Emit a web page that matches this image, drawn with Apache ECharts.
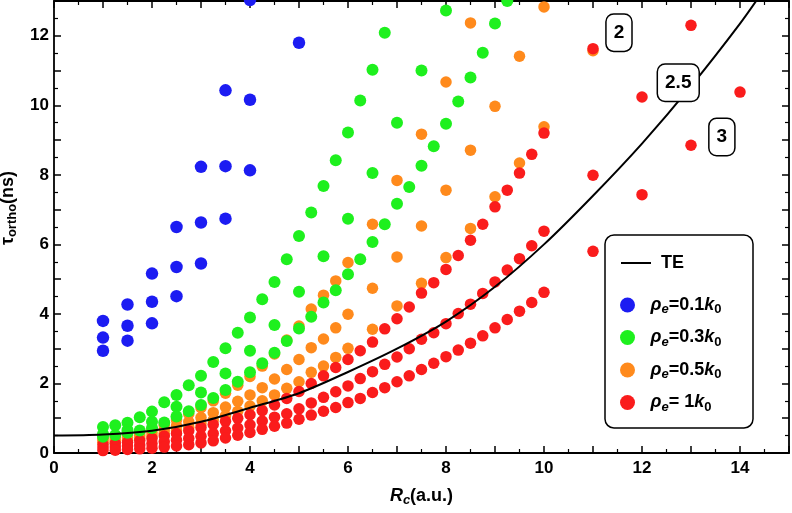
<!DOCTYPE html>
<html>
<head>
<meta charset="utf-8">
<script src="https://cdn.jsdelivr.net/npm/echarts@6/dist/echarts.min.js"></script>
<style>
html, body { margin: 0; padding: 0; background: #fff; }
#chart { width: 792px; height: 513px; }
</style>
</head>
<body>
<div id="chart"></div>
<script>
// x grids (dots sit every 0.25, some lines every 0.5)
const xQuarter = [1, 1.25, 1.5, 1.75, 2, 2.25, 2.5, 2.75, 3, 3.25, 3.5, 3.75, 4, 4.25, 4.5, 4.75, 5, 5.25, 5.5, 5.75, 6,
    6.25, 6.5, 6.75, 7, 7.25, 7.5, 7.75, 8, 8.25, 8.5, 8.75, 9, 9.25, 9.5, 9.75, 10];
const xQuarterTo6 = [1, 1.25, 1.5, 1.75, 2, 2.25, 2.5, 2.75, 3, 3.25, 3.5, 3.75, 4, 4.25, 4.5, 4.75, 5, 5.25, 5.5, 5.75, 6];

// rho_e = 0.1 k0 (blue)
const blueAX = [1, 1.5, 2, 2.5, 3, 3.5, 4];
const blueAY = [3.8, 4.27, 5.16, 6.5, 8.23, 10.43, 13.03];
const blueBX = [1, 1.5, 2, 2.5, 3, 3.5, 4];
const blueBY = [3.32, 3.66, 4.35, 5.35, 6.63, 8.25, 10.16];
const blueCX = [1, 1.5, 2, 2.5, 3, 3.5, 4, 5];
const blueCY = [2.94, 3.23, 3.73, 4.51, 5.45, 6.74, 8.13, 11.8];

// rho_e = 0.3 k0 (green)
const greenAX = [1, 1.25, 1.5, 1.75, 2, 2.25, 2.5, 2.75, 3, 3.25, 3.5, 3.75, 4, 4.25, 4.5, 4.75, 5, 5.25, 5.5, 5.75, 6, 6.25, 6.5, 6.75];
const greenAY = [0.75, 0.8, 0.87, 1.03, 1.19, 1.46, 1.67, 1.95, 2.22, 2.62, 3.01, 3.46, 3.9, 4.42, 4.92, 5.57, 6.24, 6.92,
    7.68, 8.42, 9.22, 10.14, 11.02, 12.09];
const greenBX = [1, 1.5, 2, 2.5, 3, 3.5, 4, 4.5, 5, 5.5, 6, 6.5, 7, 7.5, 8];
const greenBY = [0.55, 0.66, 0.9, 1.33, 1.74, 2.29, 2.94, 3.68, 4.64, 5.66, 6.74, 8.05, 9.5, 11.0, 12.73];
const greenCX = [1, 1.25, 1.5, 1.75, 2, 2.25, 2.5, 2.75, 3, 3.25, 3.5, 3.75, 4, 4.25, 4.5, 4.75, 5, 5.25, 5.5, 5.75, 6,
    6.25, 6.5, 6.75, 7, 7.25, 7.5, 7.75, 8, 8.25, 8.5, 8.75, 9, 9.25];
const greenCY = [0.47, 0.52, 0.58, 0.65, 0.72, 0.88, 1.05, 1.2, 1.38, 1.58, 1.81, 2.05, 2.32, 2.58, 2.88, 3.22, 3.58, 3.92,
    4.33, 4.68, 5.14, 5.57, 6.07, 6.58, 7.17, 7.65, 8.26, 8.82, 9.47, 10.11, 10.8, 11.51, 12.35, 13.0];

// rho_e = 0.5 k0 (orange)
const orangeAX = xQuarterTo6.concat([6.5, 7, 7.5, 8, 8.5]);
const orangeAY = [0.42, 0.45, 0.5, 0.58, 0.68, 0.8, 0.95, 1.12, 1.3, 1.5, 1.72, 1.95, 2.2, 2.5, 2.85, 3.25, 3.65, 4.14,
    4.54, 4.95, 5.48, 6.58, 7.84, 9.17, 10.67, 12.37];
const orangeBX = xQuarterTo6.concat([6.5, 7, 7.5, 8, 8.5, 9, 9.5, 10]);
const orangeBY = [0.36, 0.39, 0.44, 0.5, 0.58, 0.67, 0.78, 0.9, 1.02, 1.16, 1.32, 1.49, 1.67, 1.88, 2.13, 2.4, 2.69, 3.03,
    3.28, 3.6, 3.99, 4.74, 5.64, 6.53, 7.56, 8.71, 9.97, 11.41, 12.83];
const orangeCX = xQuarterTo6.concat([6.5, 7, 7.5, 8, 8.5, 9, 9.5, 10, 11]);
const orangeCY = [0.3, 0.33, 0.37, 0.42, 0.49, 0.56, 0.64, 0.74, 0.84, 0.95, 1.07, 1.2, 1.35, 1.5, 1.67, 1.86, 2.05, 2.32,
    2.5, 2.75, 3.01, 3.56, 4.23, 4.88, 5.62, 6.46, 7.37, 8.34, 9.38, 11.57];

// rho_e = 1 k0 (red)
const redAX = xQuarter.concat([11]);
const redAY = [0.24, 0.27, 0.31, 0.36, 0.42, 0.49, 0.56, 0.64, 0.73, 0.82, 0.91, 1.0, 1.1, 1.22, 1.38, 1.57, 1.77, 2.0,
    2.22, 2.46, 2.69, 2.94, 3.19, 3.57, 3.86, 4.2, 4.6, 4.9, 5.28, 5.68, 6.12, 6.58, 7.08, 7.56, 8.05, 8.59, 9.2, 11.63];
const redBX = xQuarter.concat([11, 12, 13]);
const redBY = [0.15, 0.17, 0.2, 0.23, 0.27, 0.32, 0.37, 0.42, 0.48, 0.56, 0.64, 0.72, 0.81, 0.92, 1.03, 1.13, 1.27, 1.44,
    1.6, 1.76, 1.93, 2.14, 2.34, 2.55, 2.76, 3.0, 3.27, 3.46, 3.72, 4.01, 4.28, 4.59, 4.92, 5.26, 5.59, 5.96, 6.38,
    7.99, 10.24, 12.3];
const redCX = xQuarter.concat([11, 12, 13, 14]);
const redCY = [0.07, 0.08, 0.1, 0.12, 0.14, 0.17, 0.2, 0.24, 0.29, 0.35, 0.43, 0.51, 0.59, 0.68, 0.77, 0.86, 0.97, 1.09,
    1.2, 1.31, 1.45, 1.57, 1.74, 1.88, 2.05, 2.22, 2.4, 2.58, 2.77, 2.96, 3.16, 3.37, 3.6, 3.84, 4.08, 4.33, 4.62,
    5.8, 7.43, 8.85, 10.38];

// TE curve, points
const teX = [0, 1, 2, 3, 4, 5, 6, 7, 8, 9, 10, 11, 12, 13, 14, 14.5];
const teY = [0.5, 0.53, 0.64, 0.9, 1.3, 1.72, 2.33, 3.0, 3.78, 4.78, 6.0, 7.4, 8.9, 10.55, 12.35, 13.35];

// boxed labels
const boxText = ['2', '2.5', '3'];
const boxX = [11.53, 12.74, 13.63];
const boxY = [12.09, 10.65, 9.09];

const font = "'Liberation Sans', Arial, Helvetica, sans-serif";
const blue = '#1c1cf2', green = '#1ef01e', orange = '#ff8a1c', red = '#fa1c1c';

function pts(xs, ys) {
    return xs.map((x, i) => [x, ys[i]]);
}

const legendText = {
    b01: '{g|ρ}{s|e}{n|=0.1}{k|k}{z|0}',
    g03: '{g|ρ}{s|e}{n|=0.3}{k|k}{z|0}',
    o05: '{g|ρ}{s|e}{n|=0.5}{k|k}{z|0}',
    r1: '{g|ρ}{s|e}{n|= 1}{k|k}{z|0}'
};
const legendRich = {
    g: { fontFamily: font, fontStyle: 'italic', fontWeight: 'bold', fontSize: 18, lineHeight: 22, color: '#000' },
    s: { fontFamily: font, fontStyle: 'italic', fontWeight: 'bold', fontSize: 13, verticalAlign: 'bottom', color: '#000' },
    n: { fontFamily: font, fontWeight: 'bold', fontSize: 18, lineHeight: 22, color: '#000' },
    k: { fontFamily: font, fontStyle: 'italic', fontWeight: 'bold', fontSize: 18, lineHeight: 22, color: '#000' },
    z: { fontFamily: font, fontWeight: 'bold', fontSize: 13, verticalAlign: 'bottom', color: '#000' }
};

const axisCommon = {
    type: 'value',
    axisLine: { show: true, onZero: false, lineStyle: { color: '#000', width: 1.8 } },
    axisTick: { inside: true, length: 7, lineStyle: { color: '#000', width: 1.5 } },
    minorTick: { show: true, splitNumber: 2, length: 4, lineStyle: { color: '#000', width: 1.2 } },
    splitLine: { show: false }
};
const tickLabel = {
    formatter: v => (v % 2 === 0 ? String(v) : ''),
    color: '#000', fontFamily: font, fontWeight: 'bold', fontSize: 17
};

const chart = echarts.init(document.getElementById('chart'));
const option = {
    animation: false,
    backgroundColor: '#fff',
    grid: { left: 54, right: 3, top: 1, bottom: 60, containLabel: false, outerBoundsMode: 'none' },
    xAxis: [
        Object.assign({}, axisCommon, {
            min: 0, max: 15, interval: 1, position: 'bottom',
            axisLabel: Object.assign({}, tickLabel, { margin: 7 }),
            name: '{i|R}{s|c}{n|(a.u.)}',
            nameLocation: 'middle',
            nameGap: 32,
            nameTextStyle: {
                rich: {
                    i: { fontFamily: font, fontStyle: 'italic', fontWeight: 'bold', fontSize: 18, lineHeight: 22, color: '#000' },
                    s: { fontFamily: font, fontStyle: 'italic', fontWeight: 'bold', fontSize: 13, verticalAlign: 'bottom', color: '#000' },
                    n: { fontFamily: font, fontWeight: 'bold', fontSize: 18, lineHeight: 22, color: '#000' }
                }
            }
        }),
        Object.assign({}, axisCommon, {
            min: 0, max: 15, interval: 1, position: 'top',
            axisLabel: { show: false }
        })
    ],
    yAxis: [
        Object.assign({}, axisCommon, {
            min: 0, max: 13, interval: 1, position: 'left',
            axisLabel: Object.assign({}, tickLabel, { margin: 5 }),
            name: '{t|τ}{s|ortho}{n|(ns)}',
            nameLocation: 'middle',
            nameRotate: 90,
            nameGap: 26,
            nameTextStyle: {
                padding: [0, 0, 0, 38],
                rich: {
                    t: { fontFamily: font, fontWeight: 'bold', fontSize: 18, lineHeight: 22, color: '#000' },
                    s: { fontFamily: font, fontWeight: 'bold', fontSize: 13, verticalAlign: 'bottom', color: '#000' },
                    n: { fontFamily: font, fontWeight: 'bold', fontSize: 18, lineHeight: 22, color: '#000' }
                }
            }
        }),
        Object.assign({}, axisCommon, {
            min: 0, max: 13, interval: 1, position: 'right',
            axisLabel: { show: false }
        })
    ],
    graphic: [{
        type: 'rect',
        z: 3,
        shape: { x: 605, y: 235, width: 148, height: 193, r: 9 },
        style: { fill: '#fff', stroke: '#000', lineWidth: 1.5 }
    }],
    legend: [
        {
            data: [{ name: 'TE', itemStyle: { opacity: 0, borderWidth: 0 } }],
            left: 620, top: 252, padding: 0, z: 10,
            itemWidth: 30, itemHeight: 15,
            selectedMode: false,
            textStyle: { fontFamily: font, fontWeight: 'bold', fontSize: 18, lineHeight: 22, color: '#000', padding: [0, 0, 0, 5] }
        },
        {
            data: ['b01', 'g03', 'o05', 'r1'],
            orient: 'vertical',
            left: 620, top: 296, padding: 0, z: 10,
            itemWidth: 30, itemHeight: 15, itemGap: 12.5,
            selectedMode: false,
            formatter: name => legendText[name],
            textStyle: { fontFamily: font, fontWeight: 'bold', fontSize: 18, color: '#000', padding: [0, 0, 0, 3], rich: legendRich }
        }
    ],
    series: [
        {
            name: 'b01', type: 'scatter', symbolSize: 12.5, clip: false,
            itemStyle: { color: blue, opacity: 1 },
            emphasis: { disabled: true },
            data: pts(blueAX, blueAY).concat(pts(blueBX, blueBY), pts(blueCX, blueCY))
        },
        {
            name: 'o05', type: 'scatter', symbolSize: 11.5,
            itemStyle: { color: orange, opacity: 1 },
            emphasis: { disabled: true },
            data: pts(orangeAX, orangeAY).concat(pts(orangeBX, orangeBY), pts(orangeCX, orangeCY))
        },
        {
            name: 'r1', type: 'scatter', symbolSize: 11.5,
            itemStyle: { color: red, opacity: 1 },
            emphasis: { disabled: true },
            data: pts(redAX, redAY).concat(pts(redBX, redBY), pts(redCX, redCY))
        },
        {
            name: 'g03', type: 'scatter', symbolSize: 12, clip: false,
            itemStyle: { color: green, opacity: 1 },
            emphasis: { disabled: true },
            data: pts(greenAX, greenAY).concat(pts(greenBX, greenBY), pts(greenCX, greenCY))
        },
        {
            name: 'TE', type: 'line', smooth: 0.3, symbol: 'none', z: 5,
            lineStyle: { color: '#000', width: 2 },
            itemStyle: { color: '#000' },
            emphasis: { disabled: true },
            data: pts(teX, teY)
        },
        {
            name: 'boxes', type: 'scatter', symbolSize: 0, z: 6, silent: true,
            itemStyle: { opacity: 1 },
            data: boxX.map((x, i) => ({ name: boxText[i], value: [x, boxY[i]] })),
            label: {
                show: true, position: 'inside', formatter: '{b}', opacity: 1,
                color: '#000', fontFamily: font, fontWeight: 'bold', fontSize: 19, lineHeight: 20,
                backgroundColor: '#fff', borderColor: '#000', borderWidth: 1.5, borderRadius: 7,
                padding: [8, 7, 8, 7]
            }
        }
    ]
};
chart.setOption(option);
window.addEventListener('resize', () => chart.resize());
</script>
</body>
</html>
